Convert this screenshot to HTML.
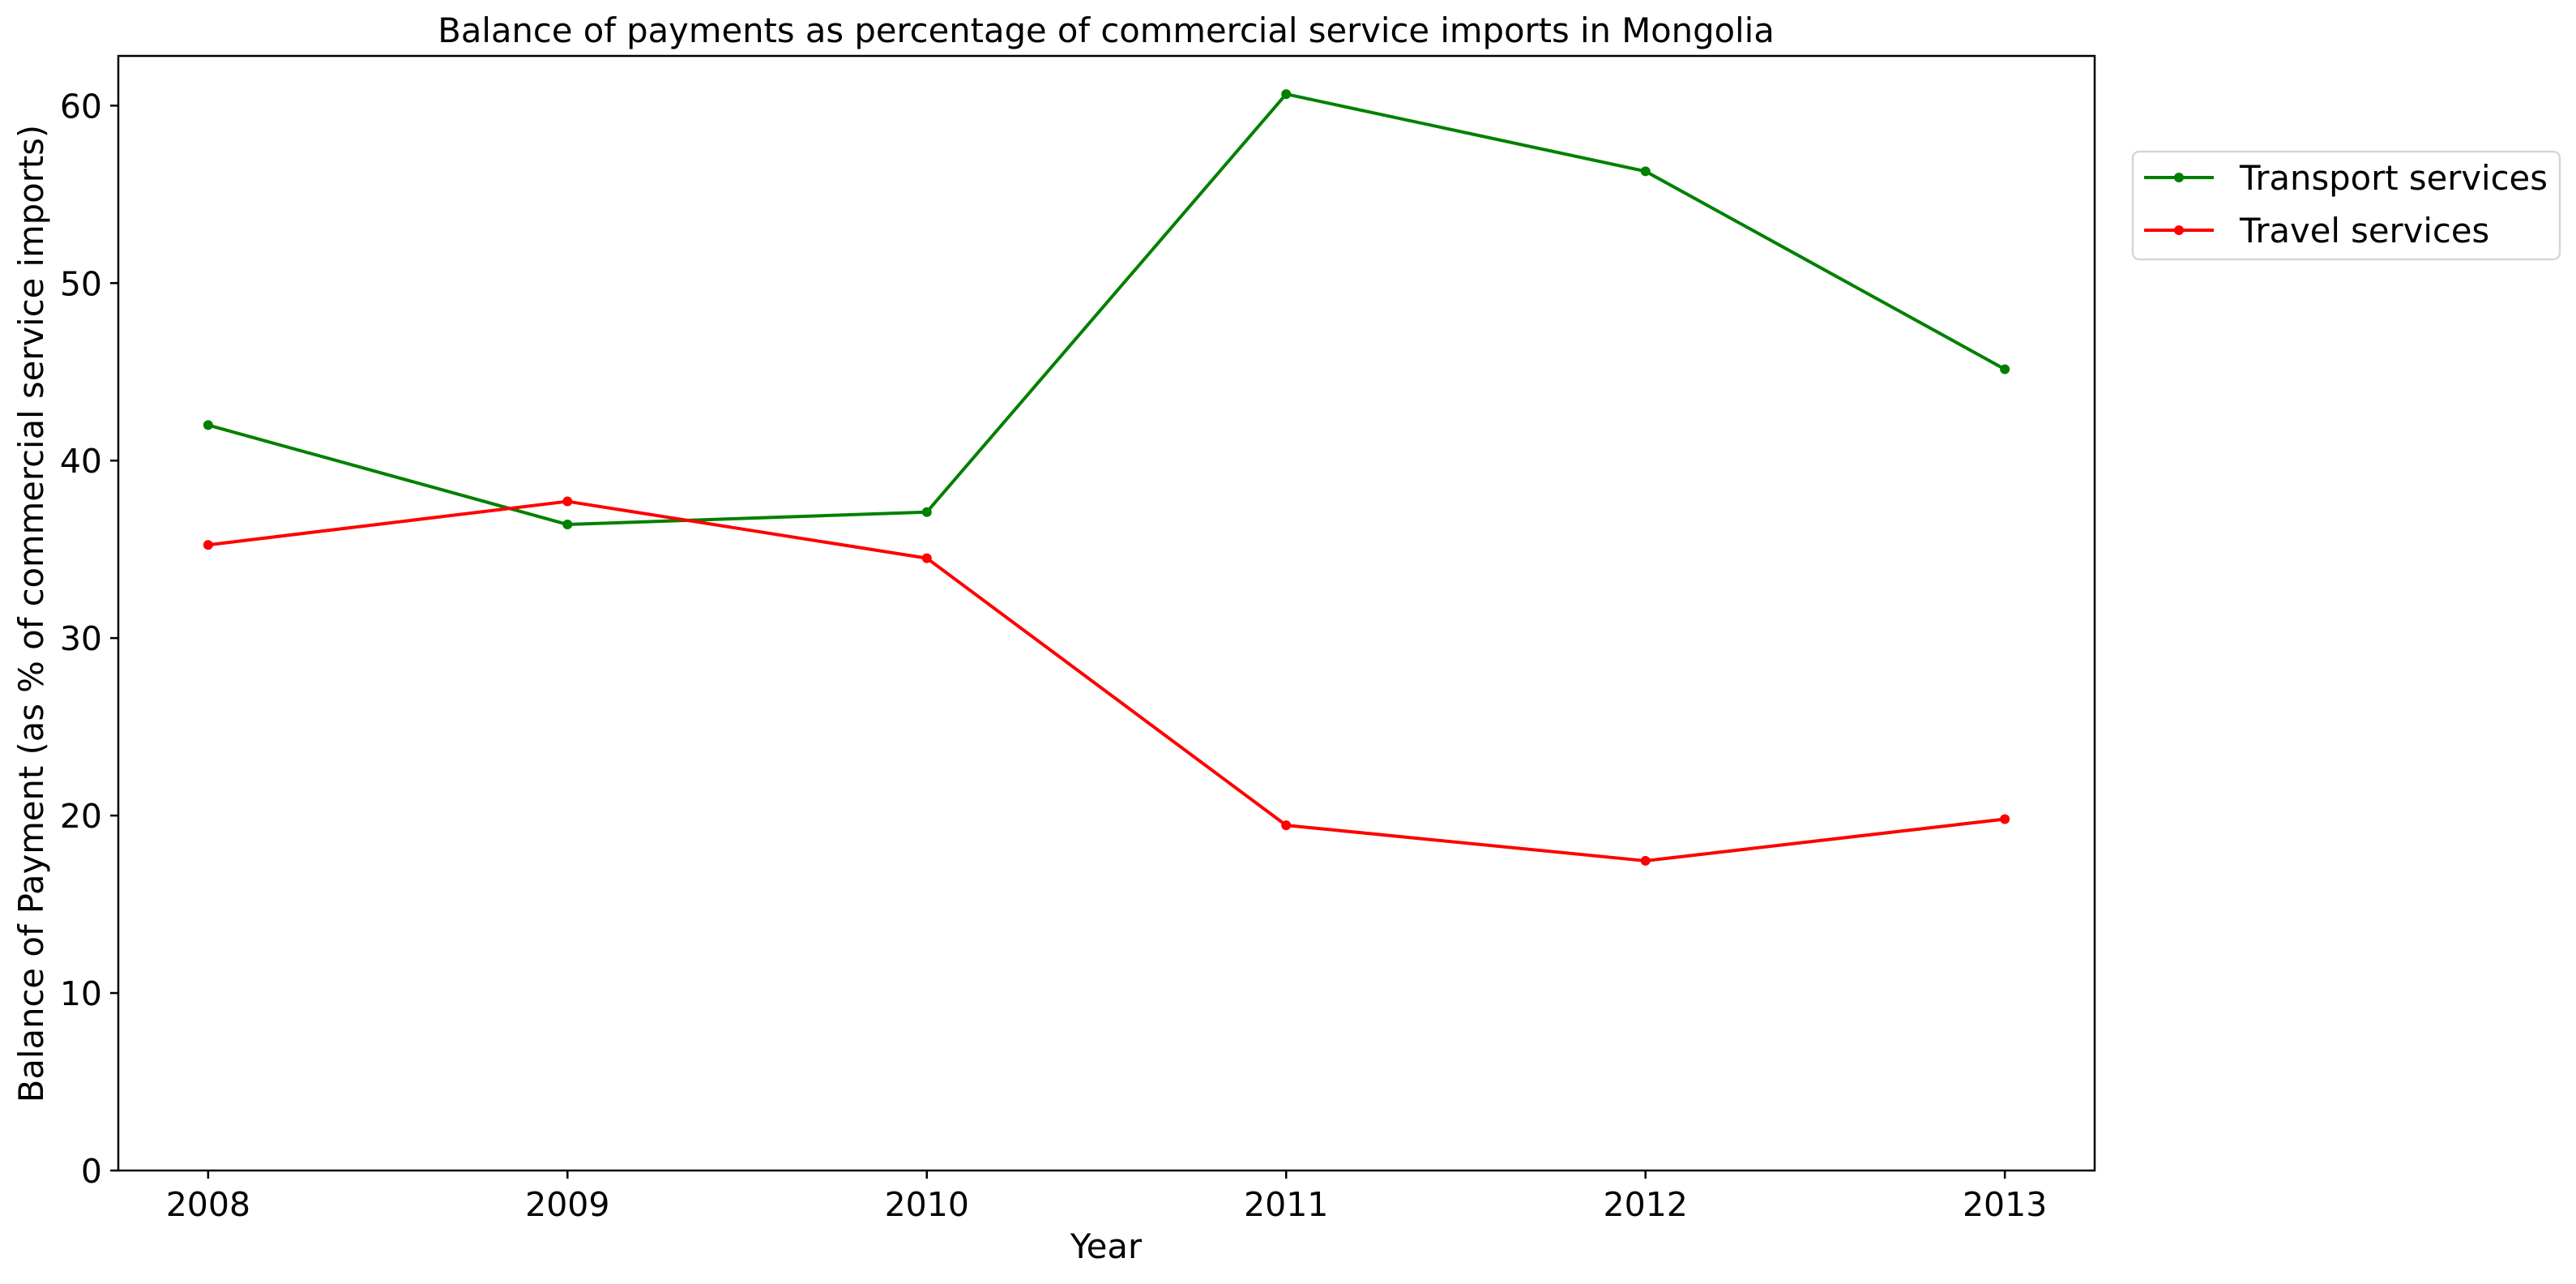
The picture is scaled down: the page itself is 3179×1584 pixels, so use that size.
<!DOCTYPE html>
<html><head><meta charset="utf-8"><style>
html,body{margin:0;padding:0;background:#fff}
svg text{font-family:"DejaVu Sans","Liberation Sans",sans-serif;fill:#000}
</style></head><body>
<svg id="chart" width="3179" height="1579" viewBox="0 0 3179 1579" xmlns="http://www.w3.org/2000/svg">
<rect width="3179" height="1579" fill="#fff"/>
<text x="1365" y="52" font-size="41.7" text-anchor="middle">Balance of payments as percentage of commercial service imports in Mongolia</text>
<g id="axes"></g>
<g id="series"></g>
<rect x="146" y="69" width="2439" height="1375" fill="none" stroke="#000" stroke-width="2.5"/>
<text x="1365" y="1552" font-size="41.7" text-anchor="middle">Year</text>
<text transform="translate(53,757) rotate(-90)" font-size="41.7" text-anchor="middle">Balance of Payment (as % of commercial service imports)</text>
<g>
<rect x="2632" y="187" width="527" height="133" rx="8" fill="#fff" stroke="#d6d6d6" stroke-width="2.5"/>
<line x1="2646" y1="219" x2="2732" y2="219" stroke="#008000" stroke-width="4"/>
<circle cx="2689" cy="219" r="6" fill="#008000"/>
<text x="2764" y="234" font-size="41.7">Transport services</text>
<line x1="2646" y1="284" x2="2732" y2="284" stroke="#ff0000" stroke-width="4"/>
<circle cx="2689" cy="284" r="6" fill="#ff0000"/>
<text x="2764" y="299" font-size="41.7">Travel services</text>
</g>
</svg>
<script>
const years = [2008, 2009, 2010, 2011, 2012, 2013];
const transport = [42.0, 36.4, 37.1, 60.65, 56.3, 45.15];
const travel = [35.25, 37.7, 34.5, 19.45, 17.45, 19.8];
const yTicks = [0, 10, 20, 30, 40, 50, 60];

const L = 146, R = 2585, T = 69, B = 1444;
const xMin = 2007.75, xMax = 2013.25, yMin = 0, yMax = 62.8;
function xs(v){ return L + (v - xMin) / (xMax - xMin) * (R - L); }
function ys(v){ return B - (v - yMin) / (yMax - yMin) * (B - T); }
const NS = "http://www.w3.org/2000/svg";
function mk(tag, attrs, parent){ const e = document.createElementNS(NS, tag); for (const k in attrs) e.setAttribute(k, attrs[k]); parent.appendChild(e); return e; }

const axes = document.getElementById('axes');
years.forEach(y => {
  const t = mk('line', {x1: xs(y), x2: xs(y), y1: B, y2: B + 10, stroke: '#000', 'stroke-width': 2.5}, axes);
  
  
  const lb = mk('text', {x: xs(y), y: B + 56, 'font-size': 41, 'text-anchor': 'middle'}, axes);
  lb.textContent = y;
  
  
});
yTicks.forEach(v => {
  const t = mk('line', {x1: L - 10, x2: L, y1: ys(v), y2: ys(v), stroke: '#000', 'stroke-width': 2.5}, axes);
  
  
  const lb = mk('text', {x: L - 20, y: ys(v) + 15, 'font-size': 41, 'text-anchor': 'end'}, axes);
  lb.textContent = v;
  
  
});

const sg = document.getElementById('series');
function drawSeries(vals, color, name){
  const pts = vals.map((v, i) => xs(years[i]) + ',' + ys(v)).join(' ');
  const pl = mk('polyline', {points: pts, fill: 'none', stroke: color, 'stroke-width': 4, 'stroke-linejoin': 'round'}, sg);
  
  
  vals.forEach((v, i) => {
    const c = mk('circle', {cx: xs(years[i]), cy: ys(v), r: 6, fill: color}, sg);
    
    
  });
}
drawSeries(transport, '#008000', 'transport');
drawSeries(travel, '#ff0000', 'travel');
</script>
</body></html>
